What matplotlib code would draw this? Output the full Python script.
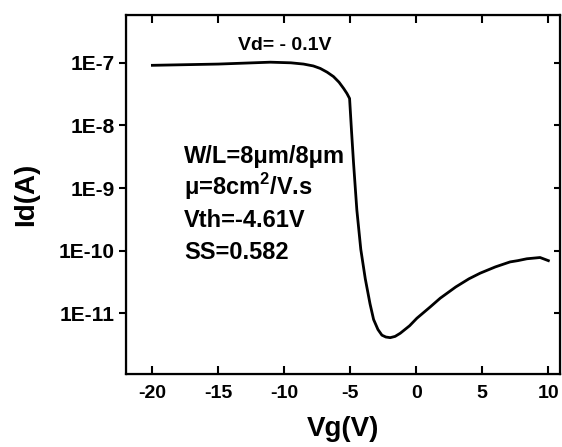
import matplotlib
matplotlib.use("Agg")
import matplotlib.pyplot as plt
import numpy as np

# transfer curve
vg = [-20, -15, -11.06, -9.5, -8.54, -7.8, -7.27, -6.75, -6.27, -5.85, -5.5, -5.25, -5.05,
      -4.9, -4.75, -4.5, -4.2, -3.86, -3.5, -3.23, -2.9, -2.6, -2.3, -1.97, -1.6, -1.21,
      -0.5, 0.05, 1.06, 1.82, 3.0, 4.0, 4.85, 6.0, 7.12, 7.7, 8.39, 9.39, 10.02]
log_id = [-7.04, -7.02, -6.99, -7.0, -7.02, -7.05, -7.09, -7.15, -7.22, -7.31, -7.41, -7.49, -7.57,
          -8.1, -8.6, -9.35, -9.98, -10.45, -10.85, -11.1, -11.26, -11.35, -11.38, -11.39, -11.37, -11.32,
          -11.2, -11.08, -10.9, -10.76, -10.58, -10.45, -10.36, -10.26, -10.18, -10.16, -10.13, -10.11, -10.16]
yticks = [1e-11, 1e-10, 1e-9, 1e-8, 1e-7]
ytick_labels = ['1E-11', '1E-10', '1E-9', '1E-8', '1E-7']
xticks = [-20, -15, -10, -5, 0, 5, 10]

plt.rcParams['font.family'] = ['Liberation Sans', 'DejaVu Sans']
plt.rcParams['font.weight'] = 'bold'
plt.rcParams['axes.unicode_minus'] = False
plt.rcParams['mathtext.fontset'] = 'custom'
plt.rcParams['mathtext.rm'] = 'Liberation Sans:bold'
plt.rcParams['mathtext.bf'] = 'Liberation Sans:bold'

fig = plt.figure(figsize=(5.62, 4.47), dpi=100)
ax = fig.add_axes([0.2242, 0.1633, 0.7722, 0.8031])

id_a = 10 ** np.array(log_id)
ax.plot(vg, id_a, color='black', lw=2, solid_joinstyle='round')

ax.set_yscale('log')
ax.set_xlim(-22, 10.9)
ax.set_ylim(1.07e-12, 5.8e-7)
ax.set_yticks(yticks)
ax.set_yticklabels(ytick_labels)
ax.minorticks_off()
ax.set_xticks(xticks)
ax.set_xticks([-17.5, -12.5, -7.5, -2.5, 2.5, 7.5], minor=True)

for s in ax.spines.values():
    s.set_linewidth(1.6)

ax.tick_params(axis='x', which='major', direction='in', length=6, width=1.5,
               top=True, labelsize=14, pad=8)
ax.tick_params(axis='x', which='minor', direction='in', length=3, width=1.5, top=True)
ax.tick_params(axis='y', which='major', direction='out', length=5, width=1.5,
               labelsize=15, pad=3)
for lab in ax.get_xticklabels() + ax.get_yticklabels():
    lab.set_fontweight('bold')

# small inward ticks on the right spine
ax2 = ax.twinx()
ax2.set_yscale('log')
ax2.set_ylim(ax.get_ylim())
ax2.set_yticks(yticks)
ax2.minorticks_off()
ax2.tick_params(axis='y', direction='in', length=4, width=1.5, labelright=False)

ax.set_xlabel('Vg(V)', fontsize=20, fontweight='bold', labelpad=10)
ax.set_ylabel('Id(A)', fontsize=20, fontweight='bold', labelpad=14)

ax.text(-10, 1.9e-7, 'Vd= - 0.1V', fontsize=14, fontweight='bold',
        ha='center', va='center')

info = ['W/L=8\u03bcm/8\u03bcm', '\u03bc=8cm$^{\\mathbf{2}}$/V.s', 'Vth=-4.61V', 'SS=0.582']
for i, line in enumerate(info):
    yy = 10 ** (-8.6 - i * 0.51)
    ax.text(-17.6, yy, line, fontsize=17, fontweight='bold', ha='left', va='baseline')

fig.savefig('out.png', dpi=100)
